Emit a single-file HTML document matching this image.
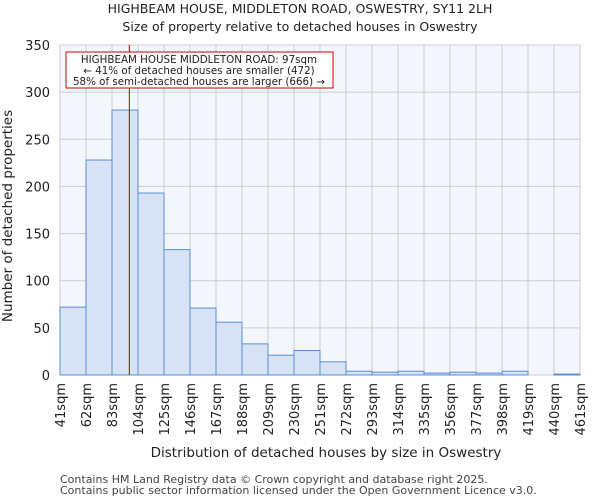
<!DOCTYPE html>
<html><head><meta charset="utf-8"><style>
body{margin:0;background:#fff;font-family:"DejaVu Sans","Liberation Sans",sans-serif;}
</style></head><body>
<svg width="600" height="500" xmlns="http://www.w3.org/2000/svg" font-family="DejaVu Sans, Liberation Sans, sans-serif">
<text x="300" y="13" text-anchor="middle" font-size="12.5" fill="#222">HIGHBEAM HOUSE, MIDDLETON ROAD, OSWESTRY, SY11 2LH</text>
<text x="300" y="31" text-anchor="middle" font-size="12.5" fill="#222">Size of property relative to detached houses in Oswestry</text>
<rect x="60" y="45" width="520" height="330" fill="#f3f6fd"/>
<g id="grid"></g><g id="bars"></g><g id="axes"></g>
<text x="326" y="457" text-anchor="middle" font-size="13.5" fill="#222">Distribution of detached houses by size in Oswestry</text>
<text transform="translate(12,216) rotate(-90)" text-anchor="middle" font-size="13.5" fill="#222">Number of detached properties</text>
<text x="60" y="483" font-size="11" fill="#444">Contains HM Land Registry data © Crown copyright and database right 2025.</text>
<text x="60" y="494" font-size="11" fill="#444">Contains public sector information licensed under the Open Government Licence v3.0.</text>
<line id="marker" y1="45" y2="375" stroke="#b00" stroke-width="1"/>
<rect x="66" y="52" width="267" height="36" fill="#fff" stroke="#c00" stroke-width="1"/>
<text x="199" y="63" text-anchor="middle" font-size="10.3" fill="#222">HIGHBEAM HOUSE MIDDLETON ROAD: 97sqm</text>
<text x="199" y="74" text-anchor="middle" font-size="10.3" fill="#222">← 41% of detached houses are smaller (472)</text>
<text x="199" y="85" text-anchor="middle" font-size="10.3" fill="#222">58% of semi-detached houses are larger (666) →</text>
</svg>
<script>
const categories=["41sqm","62sqm","83sqm","104sqm","125sqm","146sqm","167sqm","188sqm","209sqm","230sqm","251sqm","272sqm","293sqm","314sqm","335sqm","356sqm","377sqm","398sqm","419sqm","440sqm","461sqm"];
const counts=[72,228,281,193,133,71,56,33,21,26,14,4,3,4,2,3,2,4,0,1];
const yTicks=[0,50,100,150,200,250,300,350];
const binStart=41, binWidth=21, propertySize=97;
const X0=60,X1=580,Y0=375,Y1=45,YMAX=350;
const nb=counts.length;
const xs=v=>X0+(v-binStart)/(binWidth*nb)*(X1-X0);
const xi=i=>X0+i*(X1-X0)/nb;
const ys=v=>Y0-v/YMAX*(Y0-Y1);
const NS="http://www.w3.org/2000/svg";
function mk(t,a,p){const e=document.createElementNS(NS,t);for(const k in a)e.setAttribute(k,a[k]);document.getElementById(p).appendChild(e);return e;}
yTicks.forEach(t=>{
 const l=mk('line',{x1:X0,x2:X1,y1:ys(t),y2:ys(t),stroke:'#ccc'},'grid');
 
 
 const tx=mk('text',{x:X0-10,y:ys(t)+5,'text-anchor':'end','font-size':'13',fill:'#222'},'axes');
 tx.textContent=t;
 
 
});
categories.forEach((c,i)=>{
 const l=mk('line',{x1:xi(i),x2:xi(i),y1:Y1,y2:Y0,stroke:'#ccc'},'grid');
 
 
 const tx=mk('text',{transform:`translate(${xi(i)+5},${Y0+8}) rotate(-90)`,'text-anchor':'end','font-size':'13',fill:'#222'},'axes');
 tx.textContent=c;
 
 
});
counts.forEach((v,i)=>{
 const b=mk('rect',{x:xi(i),y:ys(v),width:xi(i+1)-xi(i),height:Y0-ys(v),fill:'#d7e2f4',stroke:'#5a8fd6','stroke-width':1},'bars');
 
 
});
const m=document.getElementById('marker');
m.setAttribute('x1',xs(propertySize));m.setAttribute('x2',xs(propertySize));
</script>
</body></html>
